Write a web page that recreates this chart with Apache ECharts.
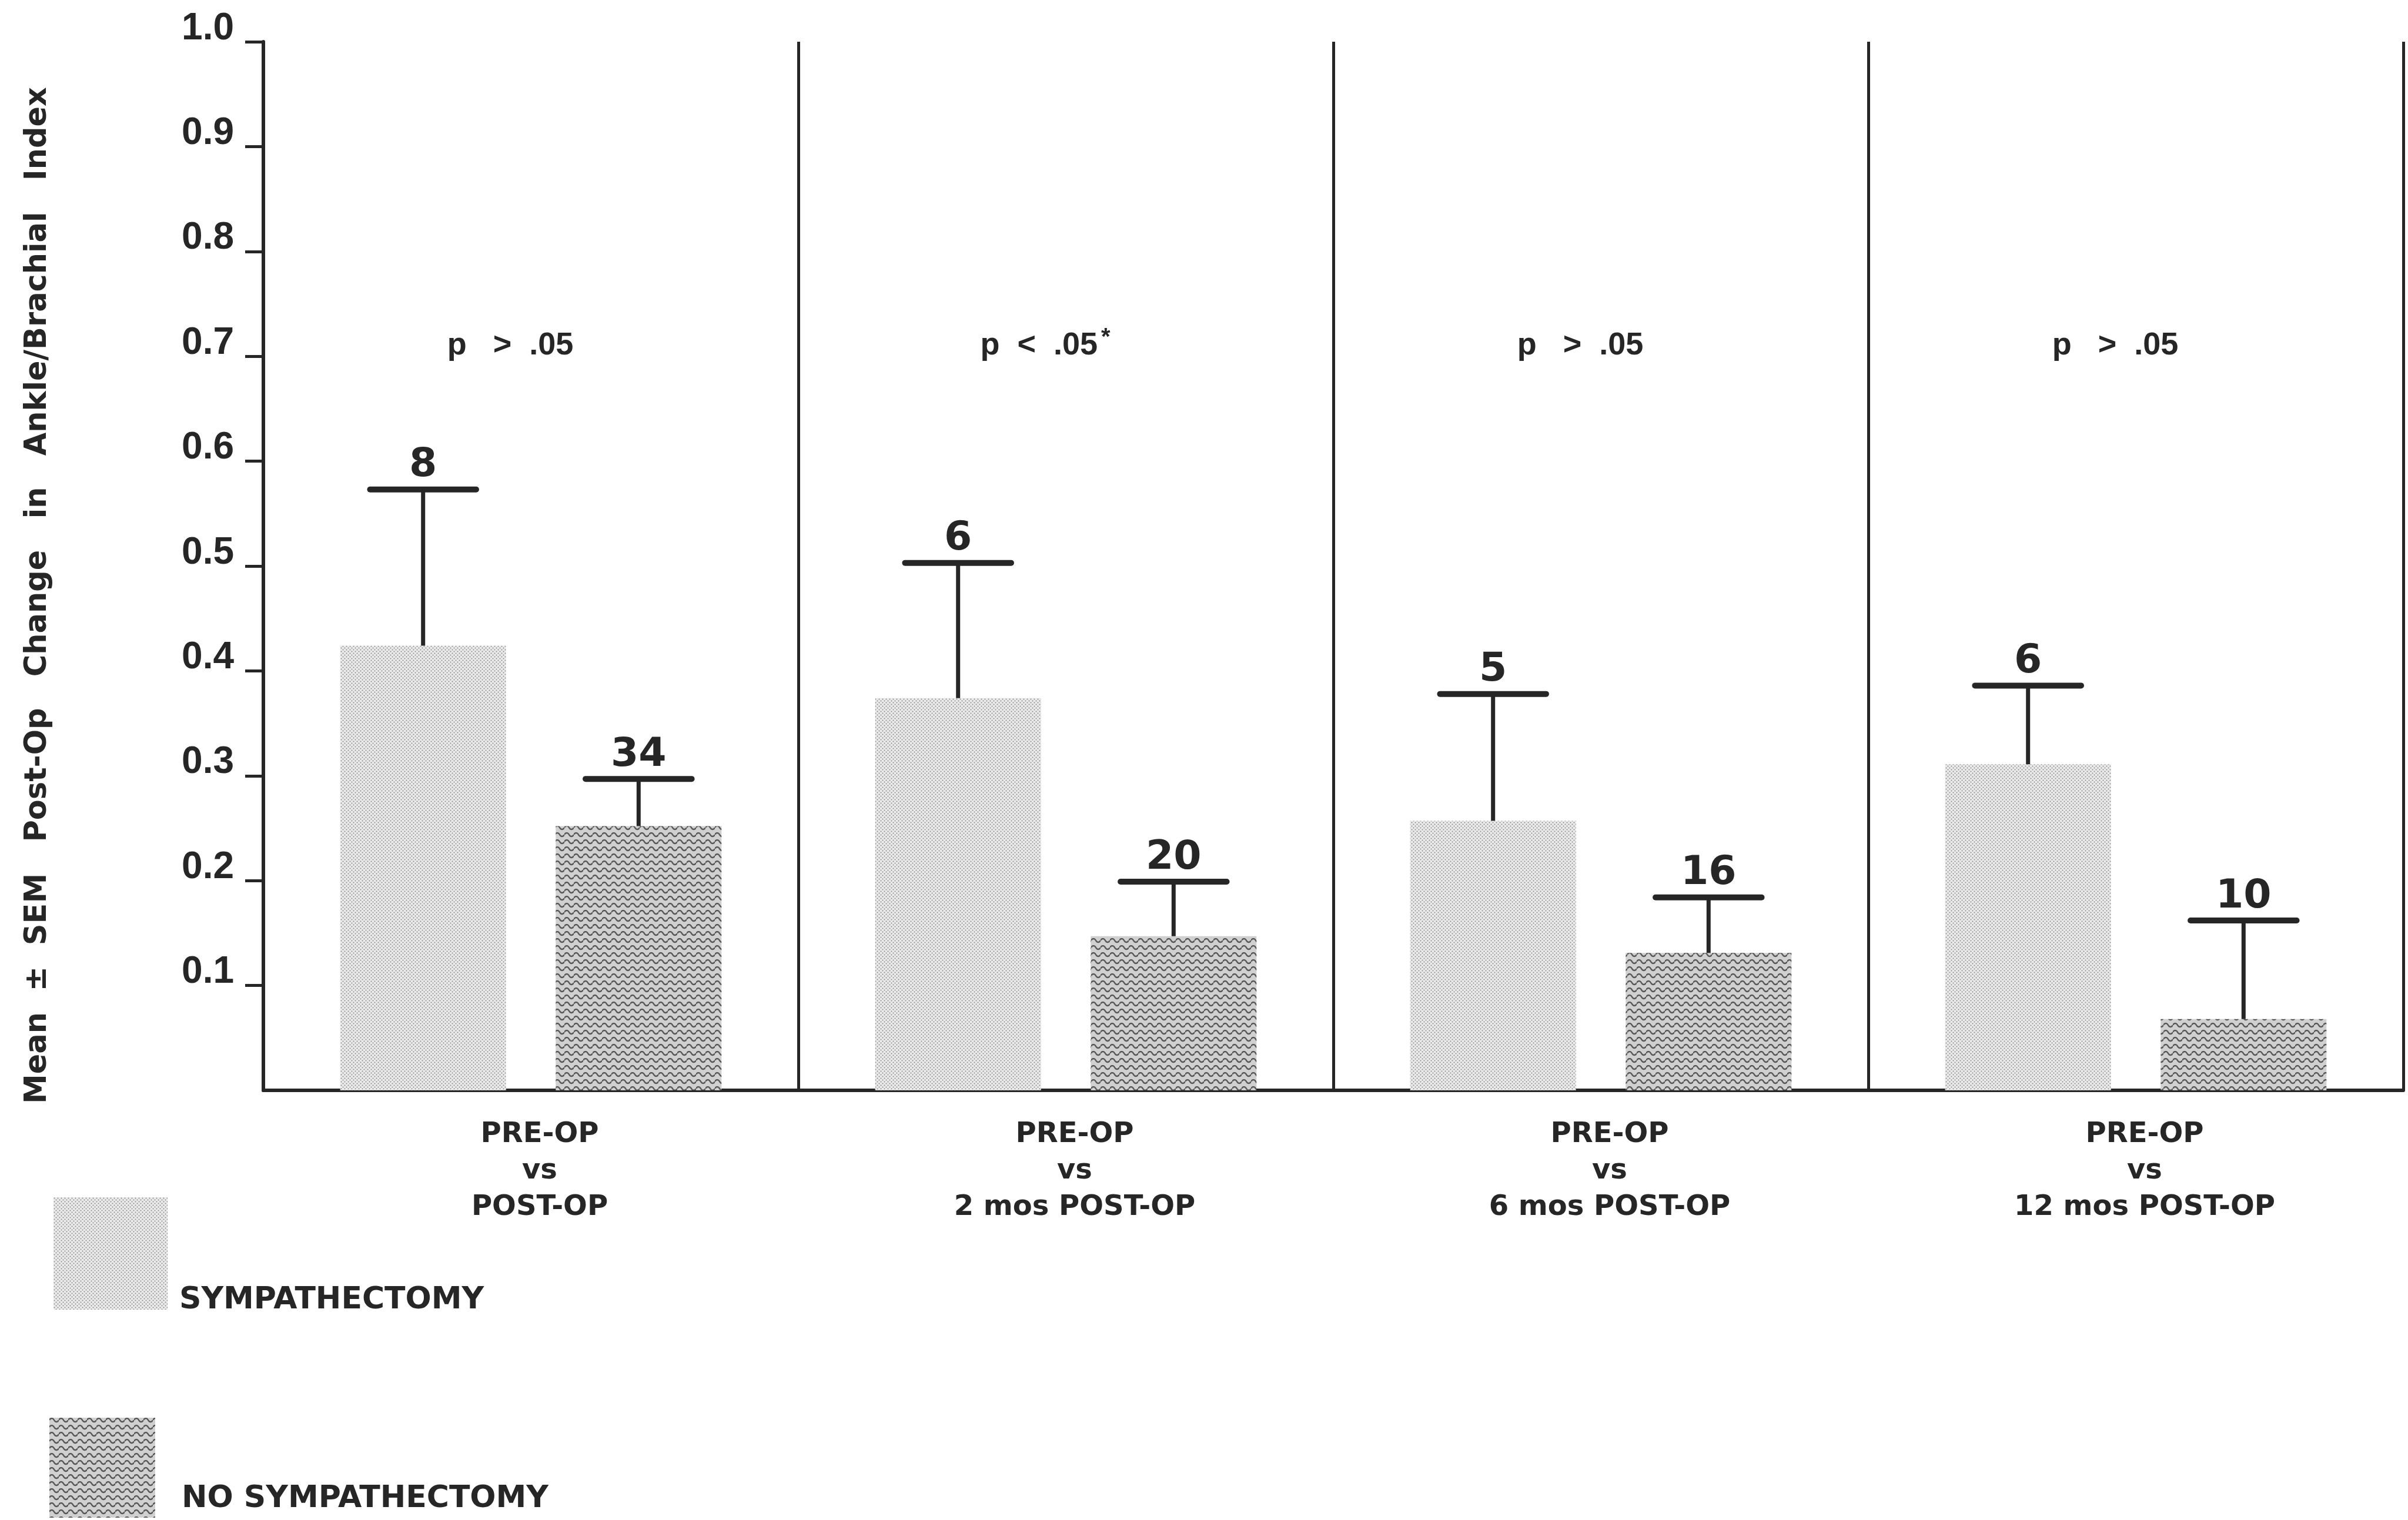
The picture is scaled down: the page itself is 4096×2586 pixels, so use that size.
<!DOCTYPE html>
<html>
<head>
<meta charset="utf-8">
<script src="https://cdn.jsdelivr.net/npm/echarts@6/dist/echarts.min.js"></script>
<style>
html,body{margin:0;padding:0;background:#ffffff;}
#chart{width:4096px;height:2586px;}
</style>
</head>
<body>
<div id="chart"></div>
<script>
// ---------- data ----------
const categories = [
  'PRE-OP\nvs\nPOST-OP',
  'PRE-OP\nvs\n2 mos POST-OP',
  'PRE-OP\nvs\n6 mos POST-OP',
  'PRE-OP\nvs\n12 mos POST-OP'
];
const seriesNames = ['SYMPATHECTOMY', 'NO SYMPATHECTOMY'];
const sympMean   = [0.424, 0.374, 0.257, 0.311];
const sympUpper  = [0.573, 0.503, 0.378, 0.386];   // mean + SEM
const sympN      = [8, 6, 5, 6];
const noSympMean  = [0.252, 0.147, 0.131, 0.068];
const noSympUpper = [0.297, 0.199, 0.184, 0.162];  // mean + SEM
const noSympN     = [34, 20, 16, 10];
const pLabels = ['p   >  .05', 'p  <  .05', 'p   >  .05', 'p   >  .05'];
const pStars  = ['', '*', '', ''];
const yTicks = [0.1, 0.2, 0.3, 0.4, 0.5, 0.6, 0.7, 0.8, 0.9, 1.0];
const yTitle = 'Mean  \u00b1  SEM   Post-Op   Change   in   Ankle/Brachial   Index';

// ---------- styling ----------
const INK = '#262626';
const FONT = '"DejaVu Sans", sans-serif';
const NARROW = '"Liberation Sans Narrow", "Liberation Sans", Arial, sans-serif';
const SANS = '"Liberation Sans", Arial, sans-serif';
const BAR_W = 282;
const BAR_GAP = 0.3;
const P_ANCHOR = 0.71;

function stipple() {
  const c = document.createElement('canvas');
  c.width = 6; c.height = 6;
  const g = c.getContext('2d');
  g.fillStyle = '#eaeaea'; g.fillRect(0, 0, 6, 6);
  g.fillStyle = '#858585';
  g.beginPath(); g.arc(1.5, 1.5, 1.0, 0, Math.PI * 2); g.fill();
  g.beginPath(); g.arc(4.5, 4.5, 1.0, 0, Math.PI * 2); g.fill();
  return { image: c, repeat: 'repeat' };
}
function wavy() {
  const c = document.createElement('canvas');
  c.width = 16; c.height = 12;
  const g = c.getContext('2d');
  g.fillStyle = '#d0d0d0'; g.fillRect(0, 0, 16, 12);
  g.strokeStyle = '#555555'; g.lineWidth = 2.3;
  g.beginPath();
  g.moveTo(0, 4);
  g.bezierCurveTo(2, 0, 6, 0, 8, 4);
  g.bezierCurveTo(10, 8, 14, 8, 16, 4);
  g.stroke();
  return { image: c, repeat: 'repeat' };
}
const fillSymp = stipple();
const fillNoSymp = wavy();

function errorSeries(name, means, uppers, ns, side) {
  return {
    type: 'custom',
    name: name + ' SEM',
    clip: false,
    z: 5,
    silent: true,
    data: means.map((m, i) => [i, m, uppers[i], ns[i]]),
    renderItem: function (params, api) {
      const i = api.value(0);
      const base = api.coord([i, 0]);
      const cx = base[0] + side * (BAR_W * (1 + BAR_GAP)) / 2;
      const yTop = api.coord([i, api.value(1)])[1];
      const yCap = api.coord([i, api.value(2)])[1];
      const half = BAR_W * 0.32;
      return {
        type: 'group',
        children: [
          { type: 'line', shape: { x1: cx, y1: yTop, x2: cx, y2: yCap },
            style: { stroke: INK, lineWidth: 7 } },
          { type: 'line', shape: { x1: cx - half, y1: yCap, x2: cx + half, y2: yCap },
            style: { stroke: INK, lineWidth: 10, lineCap: 'round' } },
          { type: 'text', x: cx, y: yCap - 6,
            style: { text: String(api.value(3)), fill: INK, fontFamily: FONT,
                     fontWeight: 'bold', fontSize: 68, align: 'center', verticalAlign: 'bottom' } }
        ]
      };
    }
  };
}

const legendText = { fill: INK, fontFamily: FONT, fontWeight: 'bold', fontSize: 52, verticalAlign: 'middle' };

const chart = echarts.init(document.getElementById('chart'), null, { renderer: 'canvas' });
chart.setOption({
  animation: false,
  backgroundColor: '#ffffff',
  grid: { left: 448, right: 8, top: 71, bottom: 731 },
  graphic: [
    { type: 'rect', left: 91, top: 2037, shape: { width: 194, height: 191 },
      style: { fill: fillSymp }, silent: true },
    { type: 'text', left: 305, top: 2186,
      style: Object.assign({ text: seriesNames[0] }, legendText), silent: true },
    { type: 'rect', left: 84, top: 2412, shape: { width: 180, height: 170 },
      style: { fill: fillNoSymp }, silent: true },
    { type: 'text', left: 309, top: 2524,
      style: Object.assign({ text: seriesNames[1] }, legendText), silent: true }
  ],
  xAxis: {
    type: 'category',
    data: categories,
    boundaryGap: true,
    axisLine: { show: true, lineStyle: { color: INK, width: 6 } },
    axisTick: { show: false },
    splitLine: { show: true, lineStyle: { color: INK, width: 5 } },
    axisLabel: {
      interval: 0, margin: 45, color: INK, fontFamily: FONT, fontWeight: 'bold',
      fontSize: 48, lineHeight: 62, padding: [0, 0, 0, 30]
    }
  },
  yAxis: {
    type: 'value', min: 0, max: 1, interval: 0.1,
    name: yTitle, nameLocation: 'middle', nameRotate: 90, nameGap: 356,
    nameTextStyle: { color: INK, fontFamily: FONT, fontWeight: 'bold', fontSize: 51,
                     lineHeight: 54, padding: [0, 100, 0, 0] },
    axisLine: { show: true, lineStyle: { color: INK, width: 6 } },
    axisTick: { show: true, inside: false, length: 31, customValues: yTicks,
                lineStyle: { color: INK, width: 5 } },
    splitLine: { show: false },
    axisLabel: {
      customValues: yTicks, margin: 50, color: INK,
      fontFamily: NARROW, fontWeight: 'bold', fontSize: 64,
      verticalAlign: 'bottom', lineHeight: 44,
      formatter: v => (v === 0 ? '' : v.toFixed(1))
    }
  },
  series: [
    {
      type: 'bar', name: seriesNames[0], data: sympMean,
      barWidth: BAR_W, barGap: (BAR_GAP * 100) + '%',
      itemStyle: { color: fillSymp }, silent: true
    },
    {
      type: 'bar', name: seriesNames[1], data: noSympMean,
      barWidth: BAR_W, barGap: (BAR_GAP * 100) + '%',
      itemStyle: { color: fillNoSymp }, silent: true
    },
    errorSeries(seriesNames[0], sympMean, sympUpper, sympN, -1),
    errorSeries(seriesNames[1], noSympMean, noSympUpper, noSympN, 1),
    {
      type: 'custom',
      name: 'p',
      clip: false,
      silent: true,
      data: pLabels.map((t, i) => [i, P_ANCHOR]),
      renderItem: function (params, api) {
        const i = api.value(0);
        const pt = api.coord([i, api.value(1)]);
        const star = pStars[params.dataIndex];
        return {
          type: 'text', x: pt[0] - 35, y: pt[1],
          style: {
            text: '{a|' + pLabels[params.dataIndex] + '}' + (star ? '{s|' + star + '}' : ''),
            align: 'center', verticalAlign: 'middle',
            rich: {
              a: { fill: INK, color: INK, fontFamily: SANS, fontWeight: 'bold', fontSize: 54 },
              s: { fill: INK, color: INK, fontFamily: SANS, fontWeight: 'bold', fontSize: 40,
                   verticalAlign: 'top', padding: [0, 0, 26, 6] }
            }
          }
        };
      }
    }
  ]
});
</script>
</body>
</html>
